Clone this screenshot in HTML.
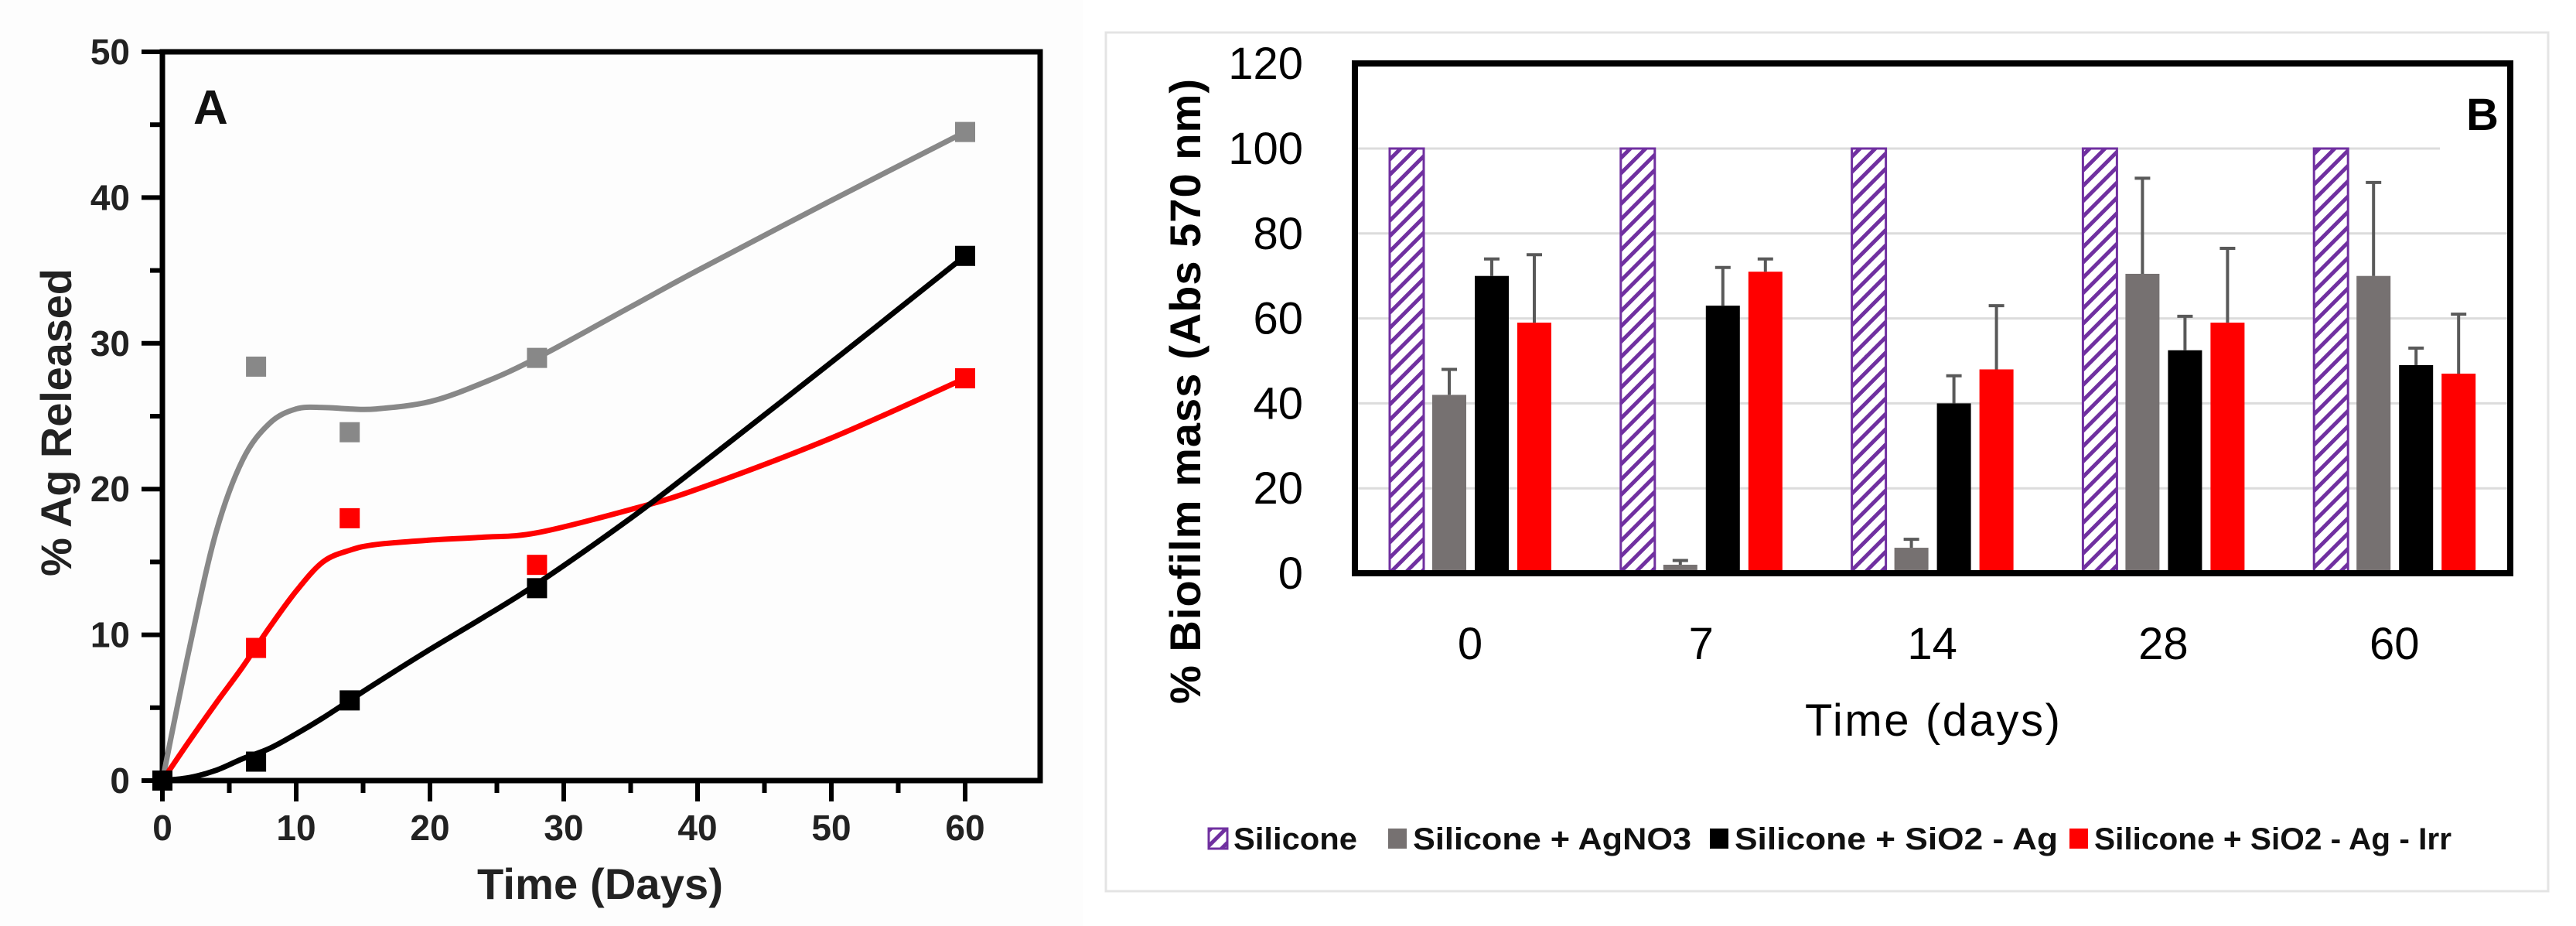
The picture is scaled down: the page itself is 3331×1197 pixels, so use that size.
<!DOCTYPE html>
<html><head><meta charset="utf-8"><style>
html,body{margin:0;padding:0;background:#fff;}
svg{display:block;}
text{font-family:"Liberation Sans",sans-serif;}
</style></head><body>
<svg id="root" width="3331" height="1197" viewBox="0 0 3331 1197" xmlns="http://www.w3.org/2000/svg">
<defs>
<pattern id="hatch" patternUnits="userSpaceOnUse" width="14" height="14" patternTransform="rotate(45)">
<rect width="14" height="14" fill="#fff"/><rect x="0" y="0" width="5" height="14" fill="#7030a0"/>
</pattern>
</defs>
<rect x="0" y="0" width="1400" height="1197" fill="#fdfdfd"/>
<g id="panelA"></g>
<rect x="1430" y="42" width="1865" height="1110" fill="#fff" stroke="#e4e4e4" stroke-width="3"/>
<g id="panelB"></g>
</svg>
<script>
// ---------- Panel A data ----------
const aDays = [0, 7, 14, 28, 60];
const aGray = [0, 28.4, 23.9, 29.0, 44.5];
const aRed = [0, 9.1, 18.0, 14.8, 27.6];
const aBlack = [0, 1.3, 5.5, 13.2, 36.0];
const fitDays = [0, 2, 4, 6, 8, 10, 12, 14, 16, 20, 24, 28, 35, 40, 50, 60];
const fitGray = [0, 9, 17, 22, 24.5, 25.5, 25.6, 25.5, 25.5, 26, 27.3, 29, 32.5, 35, 39.8, 44.5];
const fitRed = [0, 2.7, 5.3, 7.8, 10.5, 13, 15, 15.8, 16.2, 16.5, 16.7, 17, 18.6, 20, 23.5, 27.6];
const fitBlack = [0, 0.2, 0.7, 1.5, 2.2, 3.2, 4.3, 5.5, 6.7, 9, 11.2, 13.5, 18, 21.5, 28.7, 36];
const aXTicks = [0, 10, 20, 30, 40, 50, 60];
const aYTicks = [0, 10, 20, 30, 40, 50];

// ---------- Panel B data ----------
const bCats = ['0', '7', '14', '28', '60'];
const bSeriesNames = ['Silicone', 'Silicone + AgNO3', 'Silicone + SiO2 - Ag', 'Silicone + SiO2 - Ag - Irr'];
const bSilicone = [100, 100, 100, 100, 100];
const bAgNO3 = [42, 2, 6, 70.5, 70];
const bSiO2Ag = [70, 63, 40, 52.5, 49];
const bIrr = [59, 71, 48, 59, 47];
const bErrAgNO3 = [48, 3, 8, 93, 92];
const bErrSiO2Ag = [74, 72, 46.5, 60.5, 53];
const bErrIrr = [75, 74, 63, 76.5, 61];
const bYTicks = [0, 20, 40, 60, 80, 100, 120];

const NS = 'http://www.w3.org/2000/svg';
function mk(parent, tag, attrs, txt) {
  const e = document.createElementNS(NS, tag);
  for (const k in attrs) e.setAttribute(k, attrs[k]);
  if (txt !== undefined) e.textContent = txt;
  parent.appendChild(e);
  return e;
}

// ----- Panel A -----
const A = document.getElementById('panelA');
const ax = d => 210 + d * 17.3;
const ay = v => 1009 - v * 18.84;
let el;
for (let d = 0; d <= 60; d += 5) {
  el = mk(A, 'line', {x1: ax(d), x2: ax(d), y1: 1009, y2: d % 10 === 0 ? 1036 : 1025, stroke: '#000', 'stroke-width': 6});
  
  
}
for (let v = 0; v <= 50; v += 5) {
  el = mk(A, 'line', {x1: 210, x2: v % 10 === 0 ? 183 : 194, y1: ay(v), y2: ay(v), stroke: '#000', 'stroke-width': 6});
  
  
}
el = mk(A, 'rect', {x: 210, y: 67, width: 1135, height: 942, fill: 'none', stroke: '#000', 'stroke-width': 7});


aXTicks.forEach(t => {
  el = mk(A, 'text', {x: ax(t), y: 1086, 'text-anchor': 'middle', 'font-size': 46, 'font-weight': 'bold', fill: '#222'}, t);
  
  
});
aYTicks.forEach(t => {
  el = mk(A, 'text', {x: 168, y: ay(t) + 16, 'text-anchor': 'end', 'font-size': 46, 'font-weight': 'bold', fill: '#222'}, t);
  
  
});
el = mk(A, 'text', {x: 776, y: 1162, 'text-anchor': 'middle', 'font-size': 56, 'font-weight': 'bold', fill: '#222', textLength: 318}, 'Time (Days)');


el = mk(A, 'text', {x: 0, y: 0, 'text-anchor': 'middle', 'font-size': 56, 'font-weight': 'bold', fill: '#222', textLength: 398, transform: 'translate(92,546) rotate(-90)'}, '% Ag Released');


el = mk(A, 'text', {x: 250, y: 160, 'font-size': 62, 'font-weight': 'bold', fill: '#111'}, 'A');



function smoothPath(xs, ys) {
  const p = xs.map((x, i) => [ax(x), ay(ys[i])]);
  let d = 'M' + p[0][0] + ',' + p[0][1];
  for (let i = 0; i < p.length - 1; i++) {
    const p0 = p[Math.max(0, i - 1)], p1 = p[i], p2 = p[i + 1], p3 = p[Math.min(p.length - 1, i + 2)];
    const c1 = [p1[0] + (p2[0] - p0[0]) / 6, p1[1] + (p2[1] - p0[1]) / 6];
    const c2 = [p2[0] - (p3[0] - p1[0]) / 6, p2[1] - (p3[1] - p1[1]) / 6];
    d += ' C' + c1.join(',') + ' ' + c2.join(',') + ' ' + p2.join(',');
  }
  return d;
}
const aSeries = [
  {fit: fitGray, pts: aGray, color: '#888888', name: 'gray'},
  {fit: fitRed, pts: aRed, color: '#ff0000', name: 'red'},
  {fit: fitBlack, pts: aBlack, color: '#000000', name: 'black'}
];
aSeries.forEach(s => {
  el = mk(A, 'path', {d: smoothPath(fitDays, s.fit), fill: 'none', stroke: s.color, 'stroke-width': 7});
  
  
  aDays.forEach((d, i) => {
    el = mk(A, 'rect', {x: ax(d) - 13, y: ay(s.pts[i]) - 13, width: 26, height: 26, fill: s.color});
    
    
  });
});

// ----- Panel B -----
const B = document.getElementById('panelB');
const by = v => 741 - v * 5.49;
const groupW = 298.8;
const bx = (ci, si) => 1797 + ci * groupW + si * 55;
bYTicks.forEach(t => {
  if (t > 0 && t < 120) {
    el = mk(B, 'line', {x1: 1752, x2: t === 100 ? 3155 : 3246, y1: by(t), y2: by(t), stroke: '#dcdcdc', 'stroke-width': 3});
    
    
  }
  el = mk(B, 'text', {x: 1685, y: by(t) + 20, 'text-anchor': 'end', 'font-size': 58, fill: '#000'}, t);
  
  
});
const bVals = [bSilicone, bAgNO3, bSiO2Ag, bIrr];
const bErrs = [null, bErrAgNO3, bErrSiO2Ag, bErrIrr];
const bFills = ['url(#hatch)', '#767171', '#000000', '#ff0000'];
bCats.forEach((c, ci) => {
  bVals.forEach((arr, si) => {
    const x = bx(ci, si), w = 44;
    el = mk(B, 'rect', {x: x, y: by(arr[ci]), width: w, height: by(0) - by(arr[ci]), fill: bFills[si], stroke: si === 0 ? '#7030a0' : 'none', 'stroke-width': 3});
    
    
    if (bErrs[si]) {
      const e = bErrs[si][ci];
      el = mk(B, 'path', {d: `M${x + w / 2},${by(arr[ci])} V${by(e)} M${x + w / 2 - 10},${by(e)} H${x + w / 2 + 10}`, stroke: '#595959', 'stroke-width': 4, fill: 'none'});
      
      
    }
  });
  el = mk(B, 'text', {x: bx(ci, 0) + 104, y: 852, 'text-anchor': 'middle', 'font-size': 58, fill: '#000'}, c);
  
  
});
el = mk(B, 'rect', {x: 1752, y: 82, width: 1494, height: 659, fill: 'none', stroke: '#000', 'stroke-width': 8});


el = mk(B, 'text', {x: 3210, y: 168, 'text-anchor': 'middle', 'font-size': 58, 'font-weight': 'bold', fill: '#000'}, 'B');


el = mk(B, 'text', {x: 2499, y: 951, 'text-anchor': 'middle', 'font-size': 58, fill: '#000', textLength: 330}, 'Time (days)');


el = mk(B, 'text', {x: 0, y: 0, 'text-anchor': 'middle', 'font-size': 56, 'font-weight': 'bold', fill: '#000', textLength: 808, transform: 'translate(1552,506) rotate(-90)'}, '% Biofilm mass (Abs 570 nm)');


const legX = [1563, 1795, 2211, 2676];
const legW = [160, 360, 418, 462];
bSeriesNames.forEach((n, i) => {
  el = mk(B, 'rect', {x: legX[i], y: 1071, width: 24, height: 26, fill: bFills[i], stroke: i === 0 ? '#7030a0' : 'none', 'stroke-width': 3});
  
  
  el = mk(B, 'text', {x: legX[i] + 32, y: 1098, 'font-size': 40, 'font-weight': 'bold', fill: '#111', textLength: legW[i], lengthAdjust: 'spacingAndGlyphs'}, n);
  
  
});
</script>
</body></html>
